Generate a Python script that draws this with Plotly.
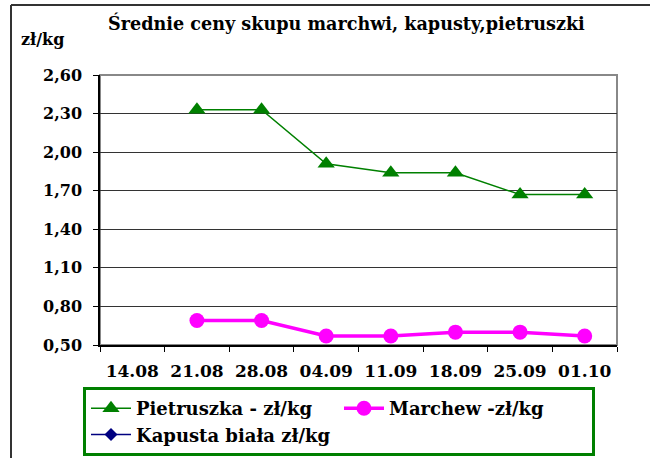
import plotly.graph_objects as go

categories = ["14.08", "21.08", "28.08", "04.09", "11.09", "18.09", "25.09", "01.10"]
pietruszka = [None, 2.33, 2.33, 1.91, 1.84, 1.84, 1.67, 1.67]
marchew = [None, 0.69, 0.69, 0.57, 0.57, 0.60, 0.60, 0.57]
kapusta = [None, None, None, None, None, None, None, None]
y_ticks = [0.50, 0.80, 1.10, 1.40, 1.70, 2.00, 2.30, 2.60]
y_ticktext = ["0,50", "0,80", "1,10", "1,40", "1,70", "2,00", "2,30", "2,60"]

W, H = 650, 458
L, R, T, B = 100, 33, 75, 113
pw, ph = W - L - R, H - T - B

def px(x):
    return (x - L) / pw

def py(y):
    return (H - B - y) / ph

font = "DejaVu Serif"

fig = go.Figure()
fig.add_trace(go.Scatter(x=categories, y=pietruszka, name="Pietruszka - zł/kg", mode="lines+markers",
                         line=dict(color="#008000", width=1.5),
                         marker=dict(symbol="triangle-up", size=15, color="#008000")))
fig.add_trace(go.Scatter(x=categories, y=marchew, name="Marchew -zł/kg", mode="lines+markers",
                         line=dict(color="#FF00FF", width=3.5),
                         marker=dict(symbol="circle", size=15, color="#FF00FF")))
fig.add_trace(go.Scatter(x=categories, y=kapusta, name="Kapusta biała zł/kg", mode="lines+markers",
                         line=dict(color="#000080", width=1.5),
                         marker=dict(symbol="diamond", size=10, color="#000080")))

fig.update_layout(
    width=W, height=H,
    margin=dict(l=L, r=R, t=T, b=B, autoexpand=False),
    plot_bgcolor="white", paper_bgcolor="white",
    font=dict(family=font, color="black"),
    showlegend=True,
    legend=dict(orientation="h", x=px(83), y=py(387), xanchor="left", yanchor="top",
                bordercolor="#008000", borderwidth=3, bgcolor="white",
                font=dict(family=font, size=18, color="black", weight="bold"),
                entrywidth=198, entrywidthmode="pixels", tracegroupgap=0,
                itemwidth=40),
    xaxis=dict(type="category", range=[-0.5, 7.5], tickson="boundaries",
               ticks="outside", ticklen=5, tickcolor="black",
               showline=True, linecolor="black", linewidth=1.5, showgrid=False,
               tickfont=dict(family=font, size=17, color="black", weight="bold"),
               ticklabelstandoff=10),
    yaxis=dict(range=[0.5, 2.6], tickvals=y_ticks, ticktext=y_ticktext,
               ticks="outside", ticklen=5, tickcolor="black",
               showline=True, linecolor="black", linewidth=1.5,
               showgrid=True, gridcolor="#333333", gridwidth=1, zeroline=False,
               tickfont=dict(family=font, size=16, color="black", weight="bold"),
               ticklabelstandoff=8),
    shapes=[
        dict(type="rect", xref="paper", yref="paper", x0=0, x1=1, y0=0, y1=1,
             line=dict(color="#888888", width=2), layer="below"),
        dict(type="line", xref="paper", yref="paper", x0=px(11), x1=px(650), y0=py(5), y1=py(5),
             line=dict(color="#333333", width=2)),
        dict(type="line", xref="paper", yref="paper", x0=px(11), x1=px(11), y0=py(5), y1=py(458),
             line=dict(color="#333333", width=2)),
    ],
    annotations=[
        dict(text="<b>Średnie ceny skupu marchwi, kapusty,pietruszki</b>", xref="paper", yref="paper",
             x=px(346), y=py(23), xanchor="center", yanchor="middle", showarrow=False,
             font=dict(family=font, size=17.6, color="black")),
        dict(text="<b>zł/kg</b>", xref="paper", yref="paper",
             x=px(19), y=py(39), xanchor="left", yanchor="middle", showarrow=False,
             font=dict(family=font, size=16, color="black")),
    ],
)

fig.write_html("out.html", post_script="document.body.style.margin='0';",
               config={"displayModeBar": False})
